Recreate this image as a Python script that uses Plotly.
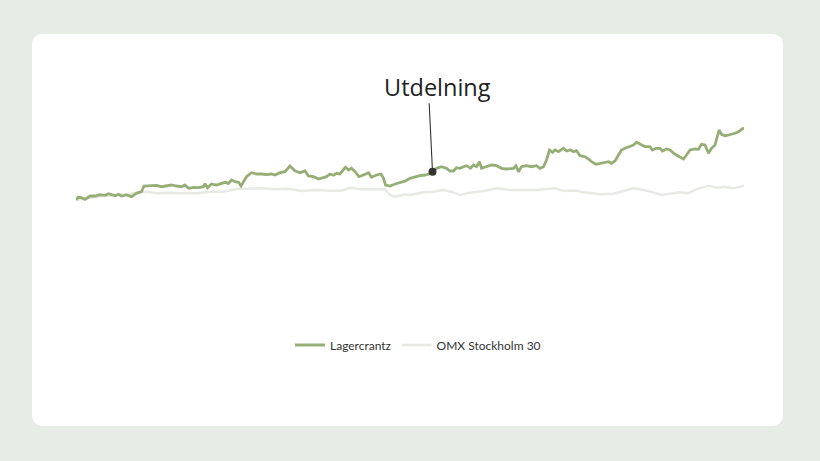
import pandas as pd
import plotly.graph_objects as go

# ---- data (day offsets from start, index values) ----
start_date = "2020-06-01"

lag_days = [0, 4, 11, 18, 28, 38, 48, 58, 65, 71, 78, 85, 91, 101, 111, 121, 131, 136, 148, 161,
            171, 181, 191, 201, 211, 218, 225, 235, 245, 255, 258, 263, 271, 281, 291, 298, 305, 311,
            318, 325, 330, 335, 341, 351, 361, 371, 381, 391, 398, 408, 418, 428, 438, 448, 458, 465,
            475, 485, 495, 501, 508, 515, 521, 528, 533, 539, 545, 551, 558, 566, 575, 585, 591, 601,
            610, 615, 619, 628, 638, 648, 658, 668, 678, 688, 698, 706, 713, 721, 731, 741, 748, 755,
            761, 768, 775, 781, 789, 795, 801, 807, 811, 821, 831, 841, 851, 861, 875, 880, 885, 891,
            901, 911, 921, 928, 935, 941, 947, 953, 958, 965, 975, 981, 989, 995, 1001, 1008, 1018,
            1025, 1031, 1040, 1048, 1058, 1065, 1071, 1078, 1085, 1091, 1098, 1108, 1115, 1121, 1128,
            1138, 1148, 1153, 1160, 1168, 1173, 1181, 1188, 1198, 1207, 1215, 1221, 1228, 1238, 1245,
            1251, 1258, 1265, 1271, 1278, 1281, 1286, 1291, 1298, 1305, 1311, 1318, 1325, 1336]
lagercrantz = [100.0, 102.7, 102.3, 100.7, 104.0, 104.0, 105.3, 104.7, 106.3, 105.0, 104.3, 105.7,
               104.0, 105.0, 103.3, 106.7, 108.3, 114.0, 114.0, 114.7, 113.3, 114.0, 115.0, 114.0,
               113.3, 115.0, 111.7, 112.7, 112.3, 113.3, 116.3, 112.3, 116.0, 115.0, 116.7, 117.7,
               116.7, 120.0, 118.3, 117.7, 114.0, 118.3, 123.3, 127.3, 126.0, 126.0, 125.3, 126.0,
               125.0, 127.3, 128.3, 134.0, 129.3, 127.3, 129.0, 124.0, 123.3, 121.0, 122.0, 123.3,
               126.0, 124.7, 126.7, 126.0, 129.3, 132.7, 130.0, 131.7, 128.3, 123.3, 125.0, 127.3,
               122.7, 125.0, 126.0, 121.7, 115.0, 114.0, 116.0, 117.5, 118.8, 121.7, 123.3, 124.3,
               125.0, 126.0, 128.3, 131.7, 133.3, 131.7, 129.0, 129.0, 132.3, 131.7, 133.3, 134.3,
               131.7, 135.0, 133.3, 138.3, 131.7, 133.3, 135.0, 134.3, 131.7, 131.0, 131.7, 134.3,
               128.3, 133.3, 134.3, 133.3, 134.3, 131.7, 133.3, 140.0, 150.0, 147.7, 150.0, 148.3,
               151.7, 149.0, 150.0, 148.3, 149.3, 144.3, 143.3, 141.0, 138.3, 135.7, 136.7, 137.3,
               138.3, 136.7, 139.0, 145.0, 150.0, 151.7, 153.3, 155.0, 157.7, 155.7, 153.3, 153.3,
               150.0, 151.7, 151.7, 149.0, 151.0, 150.0, 145.7, 143.3, 141.0, 145.0, 150.0, 151.0,
               150.7, 155.7, 155.0, 146.7, 151.7, 155.0, 160.0, 170.0, 165.7, 164.3, 165.0, 165.7,
               166.7, 168.3, 172.3]

omx_days = [0, 28, 55, 81, 101, 121, 141, 161, 188, 215, 241, 268, 295, 321, 345, 371, 398, 425,
            451, 478, 505, 531, 548, 571, 598, 618, 628, 638, 658, 668, 695, 715, 735, 755, 768,
            788, 815, 841, 868, 895, 921, 958, 975, 998, 1015, 1048, 1075, 1095, 1115, 1135, 1155,
            1171, 1188, 1208, 1225, 1241, 1265, 1281, 1295, 1315, 1336]
omx = [100.0, 102.3, 104.0, 105.0, 105.7, 107.3, 108.3, 106.7, 107.3, 106.7, 106.7, 108.3, 108.3,
       111.0, 111.0, 111.7, 110.7, 111.3, 109.0, 110.0, 109.3, 109.3, 112.3, 110.7, 110.7, 110.7,
       105.0, 103.3, 105.5, 105.0, 107.7, 108.3, 110.0, 107.7, 105.0, 107.3, 109.0, 111.7, 110.0,
       110.0, 110.0, 111.7, 109.0, 109.5, 107.7, 105.7, 106.3, 109.0, 111.7, 110.0, 107.7, 105.0,
       106.0, 107.7, 106.7, 111.0, 114.3, 112.3, 113.3, 111.7, 114.3]

dividend_idx = 86  # point in Lagercrantz series marking the dividend
series_names = ["Lagercrantz", "OMX Stockholm 30"]
annotation_text = "Utdelning"

# ---- build ----
base = pd.Timestamp(start_date)
lag_x = [base + pd.Timedelta(days=d) for d in lag_days]
omx_x = [base + pd.Timedelta(days=d) for d in omx_days]

W, H = 820, 461
ML, MR = 76, 76
PW = W - ML - MR
BG = "#e7ece6"


def px2paper(px, py):
    return (px - ML) / PW, 1 - py / H


def rounded_rect(x0, y0, x1, y1, r):
    def P(px, py):
        a, b = px2paper(px, py)
        return f"{a:.5f},{b:.5f}"
    return (f"M {P(x0 + r, y0)} L {P(x1 - r, y0)} Q {P(x1, y0)} {P(x1, y0 + r)} "
            f"L {P(x1, y1 - r)} Q {P(x1, y1)} {P(x1 - r, y1)} "
            f"L {P(x0 + r, y1)} Q {P(x0, y1)} {P(x0, y1 - r)} "
            f"L {P(x0, y0 + r)} Q {P(x0, y0)} {P(x0 + r, y0)} Z")


GREEN = "#97ad76"
GREY = "#e6eae3"

fig = go.Figure()
fig.add_trace(go.Scatter(x=omx_x, y=omx, mode="lines", name=series_names[1],
                         line=dict(color=GREY, width=2.4)))
fig.add_trace(go.Scatter(x=lag_x, y=lagercrantz, mode="lines", name=series_names[0],
                         line=dict(color=GREEN, width=2.8)))
fig.add_trace(go.Scatter(x=[lag_x[dividend_idx]], y=[lagercrantz[dividend_idx]], mode="markers",
                         marker=dict(color="#333333", size=8), showlegend=False, hoverinfo="skip"))

fig.add_shape(type="path", xref="paper", yref="paper", path=rounded_rect(32, 34, 783, 426, 12),
              fillcolor="white", line=dict(width=0), layer="below")

fig.add_annotation(x=lag_x[dividend_idx], y=lagercrantz[dividend_idx], xref="x", yref="y",
                   text="", showarrow=True, arrowhead=0, arrowwidth=1.1, arrowcolor="#333333",
                   ax=-3.4, ay=-70)
tx, ty = px2paper(437.5, 87)
fig.add_annotation(x=tx, y=ty, xref="paper", yref="paper", text=annotation_text, showarrow=False,
                   xanchor="center", yanchor="middle",
                   font=dict(family="Open Sans", size=23.5, color="#222222"))

lx, ly = px2paper(418, 345)
fig.update_layout(
    width=W, height=H,
    margin=dict(l=ML, r=MR, t=0, b=0),
    paper_bgcolor=BG,
    plot_bgcolor="rgba(0,0,0,0)",
    showlegend=True,
    legend=dict(orientation="h", x=lx, y=ly, xanchor="center", yanchor="middle",
                traceorder="normal", bgcolor="rgba(0,0,0,0)", itemwidth=30,
                font=dict(family="Lato", size=12, color="#333333")),
    xaxis=dict(visible=False, range=[base, base + pd.Timedelta(days=1336)]),
    yaxis=dict(visible=False, range=[-161, 300]),
)
fig.data[0].legendrank = 2
fig.data[1].legendrank = 1

fig.write_html("out.html", config={"displayModeBar": False},
               post_script=f"document.body.style.margin='0';document.body.style.background='{BG}';")
